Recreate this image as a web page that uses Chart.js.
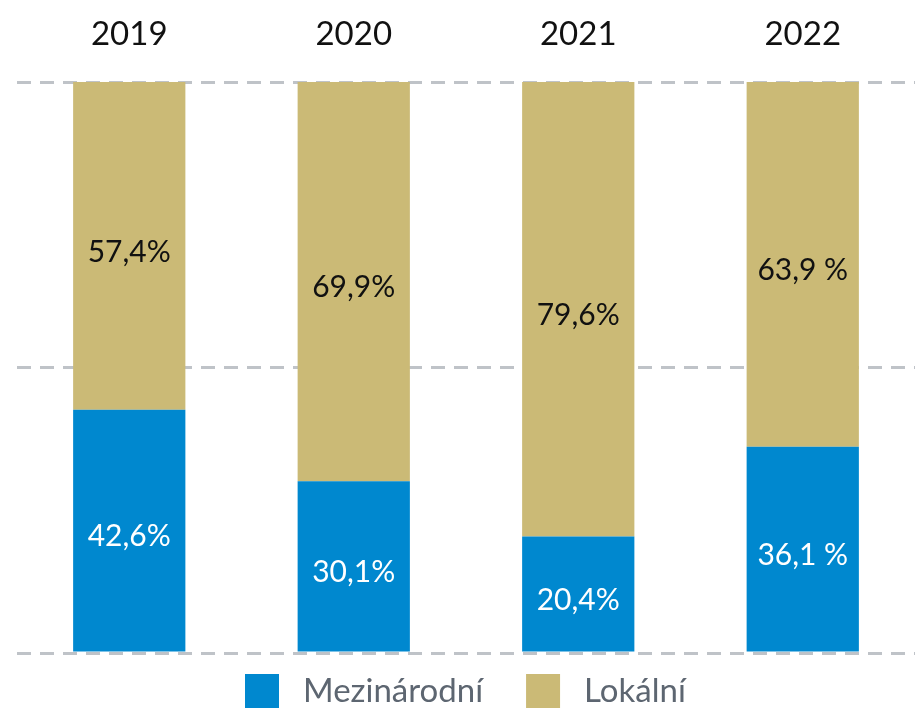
<!DOCTYPE html>
<html lang="cs">
<head>
    <meta charset="UTF-8">
    <title>Mezinárodní / Lokální</title>
    <script src="https://cdn.jsdelivr.net/npm/chart.js"></script>
    <style>
        body { margin: 0; padding: 0; background: #fff; }
        #wrap { width: 915px; height: 708px; }
    </style>
</head>
<body>

<div id="wrap">
    <canvas id="podilChart" width="915" height="708"></canvas>
</div>

<script>
    const roky = ['2019', '2020', '2021', '2022'];
    const mezinarodni = [42.6, 30.1, 20.4, 36.1];
    const lokalni = [57.4, 69.9, 79.6, 63.9];
    const mezinarodniPopisky = ['42,6%', '30,1%', '20,4%', '36,1 %'];
    const lokalniPopisky = ['57,4%', '69,9%', '79,6%', '63,9 %'];

    const modra = '#0088cf';
    const zlata = '#cbba76';

    // popisky uprostred kazdeho sloupce
    const popiskyPlugin = {
        id: 'popisky',
        afterDatasetsDraw(chart) {
            const ctx = chart.ctx;
            ctx.save();
            ctx.font = '30px Lato, sans-serif';
            ctx.textAlign = 'center';
            ctx.textBaseline = 'middle';
            chart.data.datasets.forEach((ds, i) => {
                const meta = chart.getDatasetMeta(i);
                meta.data.forEach((bar, j) => {
                    const y = (bar.y + bar.base) / 2 + 6;
                    ctx.fillStyle = i === 0 ? '#ffffff' : '#111111';
                    ctx.fillText(ds.popisky[j], bar.x, y);
                });
            });
            ctx.restore();
        }
    };

    // legenda dole, kreslena rucne kvuli rozestupum
    const legendaPlugin = {
        id: 'legenda',
        afterDraw(chart) {
            const ctx = chart.ctx;
            ctx.save();
            ctx.font = '33px Lato, sans-serif';
            ctx.textBaseline = 'middle';
            let x = 245;
            const y = 674;
            chart.data.datasets.forEach(ds => {
                ctx.fillStyle = ds.backgroundColor;
                ctx.fillRect(x, y, 34, 34);
                x += 34 + 24;
                ctx.fillStyle = '#5d6671';
                ctx.fillText(ds.label, x, y + 17);
                x += ctx.measureText(ds.label).width + 43;
            });
            ctx.restore();
        }
    };

    new Chart(document.getElementById('podilChart'), {
        type: 'bar',
        data: {
            labels: roky,
            datasets: [
                { label: 'Mezinárodní', data: mezinarodni, popisky: mezinarodniPopisky, backgroundColor: modra },
                { label: 'Lokální', data: lokalni, popisky: lokalniPopisky, backgroundColor: zlata }
            ]
        },
        options: {
            responsive: false,
            animation: false,
            layout: { padding: { left: 17, right: 0, top: 0, bottom: 55 } },
            datasets: { bar: { barPercentage: 1, categoryPercentage: 0.5 } },
            scales: {
                x: {
                    position: 'top',
                    stacked: true,
                    grid: { display: false },
                    border: { display: false },
                    ticks: { color: '#111', font: { family: 'Lato', size: 33 }, padding: 20 },
                    afterFit: s => { s.height = 82; }
                },
                y: {
                    stacked: true,
                    min: 0,
                    max: 100,
                    ticks: { display: false, stepSize: 50 },
                    border: { display: false, dash: [14, 9] },
                    grid: { color: '#bfc3c8', lineWidth: 3, drawTicks: false },
                    afterFit: s => { s.width = 0; }
                }
            },
            plugins: {
                tooltip: { enabled: false },
                legend: { display: false }
            }
        },
        plugins: [popiskyPlugin, legendaPlugin]
    });
</script>

</body>
</html>
